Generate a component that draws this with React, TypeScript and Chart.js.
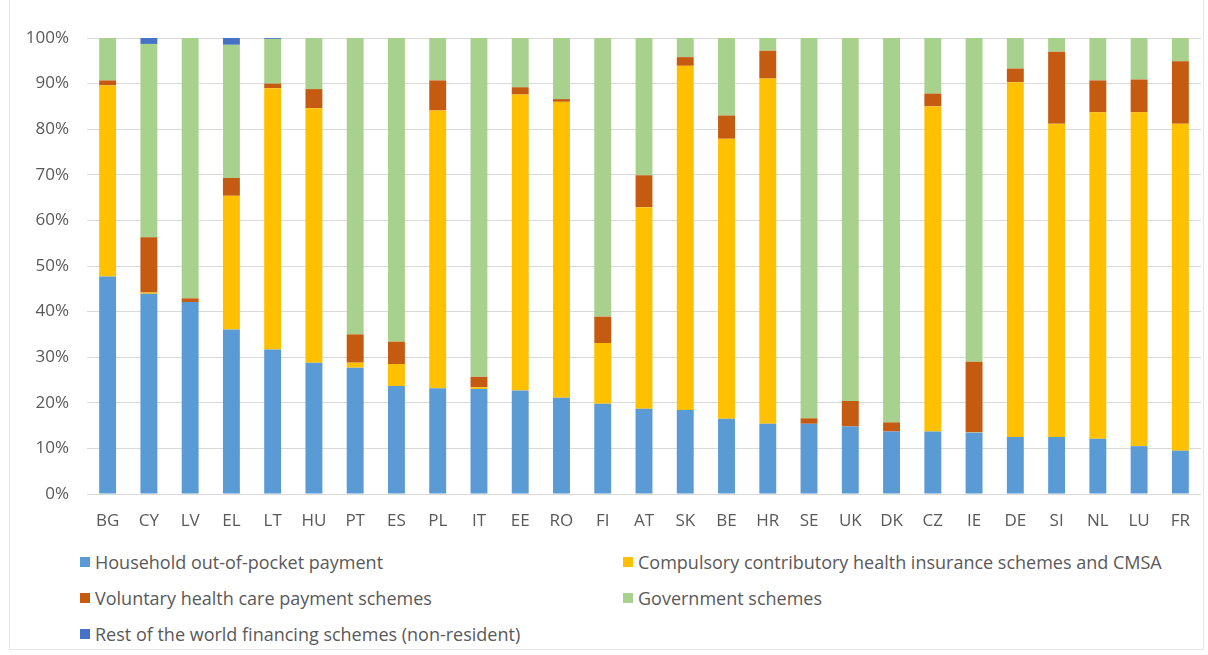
import React, { useEffect, useRef } from "react";
import { Chart, registerables } from "chart.js";

Chart.register(...registerables);

const categories = ["BG","CY","LV","EL","LT","HU","PT","ES","PL","IT","EE","RO","FI","AT","SK","BE","HR","SE","UK","DK","CZ","IE","DE","SI","NL","LU","FR"];

const household = [47.7,43.9,42.1,36.1,31.7,28.8,27.7,23.7,23.2,23.0,22.7,21.1,19.8,18.7,18.4,16.5,15.4,15.4,14.8,13.7,13.7,13.5,12.5,12.5,12.1,10.5,9.5];
const compulsory = [41.9,0.3,0,29.3,57.3,55.8,1.1,4.8,60.9,0.4,64.9,64.9,13.3,44.2,75.5,61.4,75.7,0,0,0,71.3,0.1,77.8,68.7,71.6,73.2,71.7];
const voluntary = [1.1,12.1,0.8,3.9,1.0,4.2,6.2,4.9,6.6,2.3,1.6,0.6,5.8,7.0,1.9,5.1,6.1,1.2,5.6,2.0,2.8,15.4,3.0,15.8,7.0,7.2,13.7];
const government = [9.3,42.4,57.1,29.2,9.8,11.2,65.0,66.6,9.3,74.3,10.8,13.4,61.1,30.1,4.2,17.0,2.8,83.4,79.6,84.3,12.2,71.0,6.7,3.0,9.3,9.1,5.1];
const restOfWorld = [0,1.3,0,1.5,0.2,0,0,0,0,0,0,0,0,0,0,0,0,0,0,0,0,0,0,0,0,0,0];

const yTicks = [0,10,20,30,40,50,60,70,80,90,100];

const seriesNames = [
  "Household out-of-pocket payment",
  "Compulsory contributory health insurance schemes and CMSA",
  "Voluntary health care payment schemes",
  "Government schemes",
  "Rest of the world financing schemes (non-resident)",
];
const seriesColors = ["#5b9bd5","#ffc000","#c55a11","#a9d18e","#4472c4"];
const seriesData = [household, compulsory, voluntary, government, restOfWorld];

// legend placement: [column, row]
const legendSlots = [[0,0],[1,0],[0,1],[1,1],[0,2]];

const FONT = "'Open Sans', 'Liberation Sans', sans-serif";

export default function App() {
  const ref = useRef<HTMLCanvasElement | null>(null);

  useEffect(() => {
    if (!ref.current) return;
    const chart = new Chart(ref.current, {
      type: "bar",
      data: {
        labels: categories,
        datasets: seriesData.map((d, i) => ({
          label: seriesNames[i],
          data: d,
          backgroundColor: seriesColors[i],
          borderWidth: 0,
          categoryPercentage: 1,
          barPercentage: 0.41,
        })),
      },
      options: {
        responsive: false,
        animation: false,
        layout: { padding: { top: 38, right: 7, left: 0, bottom: 0 } },
        plugins: { legend: { display: false }, tooltip: { enabled: false } },
        scales: {
          x: {
            stacked: true,
            grid: { display: false, drawTicks: false },
            border: { display: false },
            ticks: { color: "#595959", font: { size: 17, family: FONT }, padding: 17, maxRotation: 0, autoSkip: false },
            afterFit: (s: any) => { s.height = 46; },
          },
          y: {
            stacked: true,
            min: 0,
            max: 100,
            afterBuildTicks: (s: any) => { s.ticks = yTicks.map((v) => ({ value: v })); },
            grid: { color: "#d9d9d9", lineWidth: 1, drawTicks: false },
            border: { display: false },
            ticks: { color: "#595959", font: { size: 17, family: FONT }, padding: 18, callback: (v: any) => v + "%" },
            afterFit: (s: any) => { s.width = 87; },
          },
        },
      },
    });
    return () => chart.destroy();
  }, []);

  const colX = [80, 623];
  const rowY = [562, 598, 634];

  return (
    <div style={{ position: "fixed", left: 0, top: 0, width: 1208, height: 655, background: "#fff", fontFamily: FONT, overflow: "hidden" }}>
      <div style={{ position: "absolute", left: 9, top: -2, width: 1195, height: 652, border: "1px solid #e6e6e6", boxSizing: "border-box" }} />
      <canvas ref={ref} width={1208} height={540} style={{ position: "absolute", left: 0, top: 0, width: 1208, height: 540 }} />
      {seriesNames.map((name, i) => {
        const [c, r] = legendSlots[i];
        return (
          <div key={name} style={{ position: "absolute", left: colX[c], top: rowY[r] - 12, height: 24, display: "flex", alignItems: "center", whiteSpace: "nowrap", color: "#595959", fontSize: 18 }}>
            <span style={{ display: "inline-block", width: 10, height: 10, background: seriesColors[i], marginRight: 5 }} />
            <span>{name}</span>
          </div>
        );
      })}
    </div>
  );
}
